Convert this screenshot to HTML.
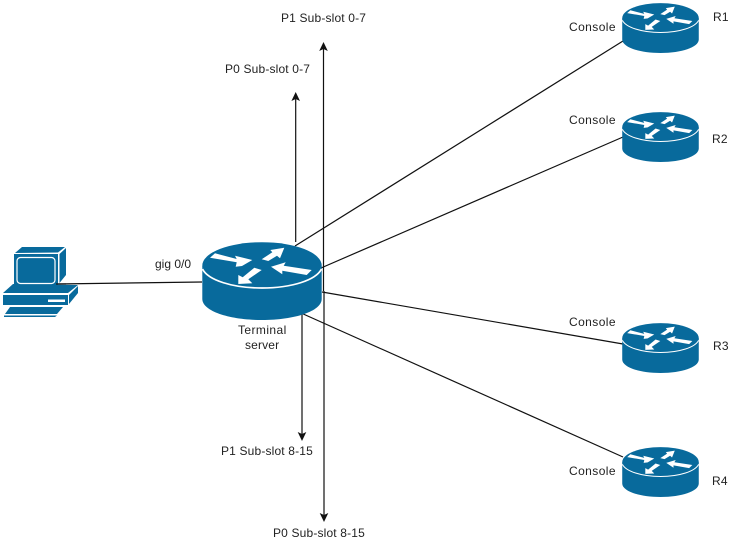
<!DOCTYPE html>
<html>
<head>
<meta charset="utf-8">
<style>
html,body{margin:0;padding:0;background:#fff;width:741px;height:552px;overflow:hidden}
svg{display:block}
text{font-family:"Liberation Sans",Arial,sans-serif;font-size:12px;fill:#222;letter-spacing:.16px}
text.w{letter-spacing:.42px}
</style>
</head>
<body>
<svg width="741" height="552" viewBox="0 0 741 552" xmlns="http://www.w3.org/2000/svg">
<defs>
<symbol id="router" viewBox="0 0 120 78">
<path d="M0.3,24 V57 C0.300,69 27,78 60,78 S119.700,69 119.700,57 V24 Z" fill="#086a9c"/>
<ellipse cx="60" cy="23.500" rx="59.700" ry="23.300" fill="#086a9c"/>
<path d="M0.500,27 C6,38 30,46 60,46 S114,38 119.500,27" fill="none" stroke="#fff" stroke-width="1.700"/>
<g fill="#fff">
<path d="M8,15.700 L13,11.300 L34.700,17 L33,13.700 L50.300,18 L40,24 L33.700,24.700 L34.700,20.300 Z"/>
<path d="M59.700,17.300 L70.300,10.300 L68.300,8 L82.300,5.700 L78,16.300 L75,13.700 L66.300,19 Z"/>
<path d="M69,24.700 L83.700,20.300 L81.700,23.700 L109.700,28 L104.700,33 L80.300,28.700 L80.300,32.300 Z"/>
<path d="M36.300,42 L36.300,33 L40.700,35.300 L52.300,25.700 L59.700,28 L46.300,37.300 L50.300,41.300 Z"/>
</g>
</symbol>
</defs>

<g stroke="#111" stroke-width="1.200" fill="none">
<line x1="56" y1="284" x2="202" y2="282"/>
<line x1="295" y1="246" x2="623" y2="41"/>
<line x1="321" y1="268" x2="623" y2="137"/>
<line x1="322" y1="292" x2="623" y2="344"/>
<line x1="301" y1="313" x2="623" y2="457"/>
<line x1="295.700" y1="98" x2="295.700" y2="242"/>
<line x1="323.500" y1="48" x2="323.500" y2="291"/>
<line x1="324" y1="291" x2="324" y2="516"/>
<line x1="302" y1="312" x2="302" y2="435"/>
</g>
<g fill="#111">
<path d="M295.700,92 L300,101 L295.700,99 L291.400,101 Z"/>
<path d="M323.500,42 L327.800,51 L323.500,49 L319.200,51 Z"/>
<path d="M324,522 L319.700,513 L324,515 L328.300,513 Z"/>
<path d="M302,441 L297.700,432 L302,434 L306.300,432 Z"/>
</g>

<use href="#router" x="202" y="242" width="120" height="78"/>
<use href="#router" x="622" y="3" width="77" height="50"/>
<use href="#router" x="622" y="112" width="77" height="50"/>
<use href="#router" x="622" y="323" width="77" height="50"/>
<use href="#router" x="622" y="447" width="77" height="50"/>

<g fill="#086a9c">
<polygon points="15,253 22,247 65,247 58,252.500"/>
<polygon points="59.500,254 66,248 66,275 59.500,283"/>
<rect x="14" y="254" width="44" height="31"/>
<polygon points="3,293 13,284 78,285 68,293"/>
<rect x="3" y="295" width="65" height="10"/>
<polygon points="69,295 78,286 78,293 69,304"/>
<polygon points="5,314 10,307 63,307 57,314"/>
<polygon points="4,315.500 57,315.500 55,317 4,317"/>
</g>
<rect x="17" y="257.500" width="38" height="26" rx="3.500" fill="#086a9c" stroke="#fff" stroke-width="1.200"/>
<rect x="48" y="299.500" width="17" height="2.500" fill="#fff"/>
<line x1="56" y1="284" x2="66" y2="284" stroke="#111" stroke-width="1.200"/>

<text x="281" y="22">P1 Sub-slot 0-7</text>
<text x="225" y="73">P0 Sub-slot 0-7</text>
<text x="221" y="455">P1 Sub-slot 8-15</text>
<text x="273" y="537">P0 Sub-slot 8-15</text>
<text x="155" y="268" style="letter-spacing:0">gig 0/0</text>
<text x="238" y="334" class="w">Terminal</text>
<text x="245" y="349">server</text>
<text x="569" y="31" class="w">Console</text>
<text x="569" y="124" class="w">Console</text>
<text x="569" y="326" class="w">Console</text>
<text x="569" y="475" class="w">Console</text>
<text x="713" y="21">R1</text>
<text x="712" y="143">R2</text>
<text x="713" y="350">R3</text>
<text x="712" y="485">R4</text>
</svg>
</body>
</html>
